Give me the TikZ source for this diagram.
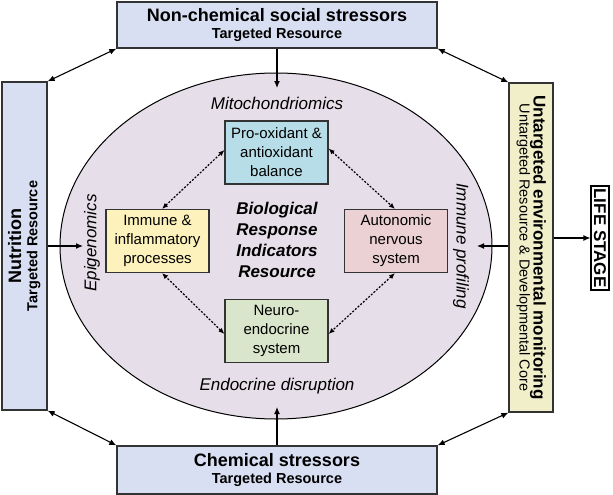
\documentclass[tikz,border=0pt]{standalone}
\usepackage{fontspec}
\setmainfont{Liberation Sans}
\usetikzlibrary{shapes.geometric,arrows.meta}
\definecolor{stressfill}{HTML}{D9DFF2}
\definecolor{envfill}{HTML}{F1EFC9}
\definecolor{ellfill}{HTML}{E6DEE8}
\definecolor{profill}{HTML}{B7DEE8}
\definecolor{immfill}{HTML}{FDF2BB}
\definecolor{autfill}{HTML}{EBD0D4}
\definecolor{neufill}{HTML}{DAE6CB}
\definecolor{boxline}{HTML}{333333}
\begin{document}
\begin{tikzpicture}[x=1pt,y=-1pt,
  sbox/.style={draw=boxline,line width=1.3pt,inner sep=0pt,align=center},
  inbox/.style={draw=boxline,line width=1.1pt,minimum width=103pt,minimum height=63pt,align=center,font=\fontsize{15}{19}\selectfont,inner sep=0pt},
  conn/.style={line width=1.1pt,-{Latex[length=7pt,width=6pt]}},
  biconn/.style={line width=1.1pt,{Latex[length=7pt,width=6pt]}-{Latex[length=7pt,width=6pt]}},
  dotconn/.style={line width=1.2pt,dash pattern=on 2pt off 1.6pt,{Latex[length=6pt,width=5pt]}-{Latex[length=6pt,width=5pt]}},
  lab/.style={font=\fontsize{17}{20}\selectfont\itshape,inner sep=0pt}
]
\useasboundingbox (0,0) rectangle (613,495);

% central ellipse
\node[ellipse,draw=black,line width=1pt,fill=ellfill,minimum width=432pt,minimum height=346pt,inner sep=0pt] (ell) at (276,246) {};

% outer boxes
\node[sbox,fill=stressfill,minimum width=320pt,minimum height=46pt] (top) at (277,25)
  {\fontsize{18}{20}\selectfont\bfseries Non-chemical social stressors\\[5pt]\fontsize{14.5}{17}\selectfont\bfseries Targeted Resource};
\node[sbox,fill=stressfill,minimum width=320pt,minimum height=48pt] (bot) at (277,470)
  {\fontsize{18}{20}\selectfont\bfseries Chemical stressors\\[5pt]\fontsize{14.5}{17}\selectfont\bfseries Targeted Resource};
\node[sbox,fill=stressfill,minimum width=45pt,minimum height=328pt] (nut) at (24.5,246)
  {\rotatebox{90}{\begin{tabular}{@{}c@{}}\fontsize{18}{18}\selectfont\bfseries Nutrition\\[2pt]\fontsize{14.5}{16}\selectfont\bfseries Targeted Resource\end{tabular}}};
\node[sbox,fill=envfill,minimum width=44pt,minimum height=329pt] (env) at (531,247.5)
  {\rotatebox{-90}{\begin{tabular}{@{}c@{}}\fontsize{17}{17}\selectfont\bfseries Untargeted environmental monitoring\\[0pt]\fontsize{14.5}{16}\selectfont Untargeted Resource \& Developmental Core\end{tabular}}};
\node[draw=black,line width=1.1pt,fill=white,minimum width=18pt,minimum height=104pt,inner sep=0pt] (life) at (600,238)
  {\rotatebox{-90}{\fontsize{17}{17}\selectfont\bfseries LIFE STAGE}};

% inner boxes
\node[inbox,fill=profill] (pro) at (276.5,152.5) {Pro-oxidant \&\\antioxidant\\balance};
\node[inbox,fill=immfill] (imm) at (157.5,241) {Immune \&\\inflammatory\\processes};
\node[inbox,fill=autfill] (aut) at (396,241) {Autonomic\\nervous\\system};
\node[inbox,fill=neufill] (neu) at (276.5,331) {Neuro-\\endocrine\\system};

% labels in ellipse
\node[font=\fontsize{17}{21}\selectfont\bfseries\itshape,align=center,inner sep=0pt] (bri) at (277,240) {Biological\\Response\\Indicators\\Resource};
\node[lab] (mito) at (277,103) {Mitochondriomics};
\node[lab] (endo) at (277,386) {Endocrine disruption};
\node[lab,rotate=90] (epi) at (92,243) {Epigenomics};
\node[lab,rotate=-90] (ipro) at (461,246) {Immune profiling};

% free ends of arrows
\coordinate (topTip) at (277,88);
\coordinate (botTip) at (277,407);
\coordinate (nutTip) at (83,246);
\coordinate (envTip) at (477,246);

% connectors
\draw[conn] (top.south) -- (topTip);
\draw[conn] (bot.north) -- (botTip);
\draw[conn] (nut.east |- nutTip) -- (nutTip);
\draw[conn] (env.west |- envTip) -- (envTip);
\draw[conn] (env.east |- life.west) -- (life.west);
\draw[biconn] (top.south west) -- (nut.north east);
\draw[biconn] (top.south east) -- (env.north west);
\draw[biconn] (bot.north west) -- (nut.south east);
\draw[biconn] (bot.north east) -- (env.south west);

% dotted connectors
\draw[dotconn] ([xshift=4.5pt]imm.north) -- ([yshift=2.5pt]pro.west);
\draw[dotconn] ([yshift=4pt]pro.east) -- ([xshift=-1pt]aut.north);
\draw[dotconn] ([xshift=-1pt]aut.south) -- ([yshift=-3pt]neu.east);
\draw[dotconn] ([yshift=-3pt]neu.west) -- ([xshift=4.5pt]imm.south);
\end{tikzpicture}
\end{document}
